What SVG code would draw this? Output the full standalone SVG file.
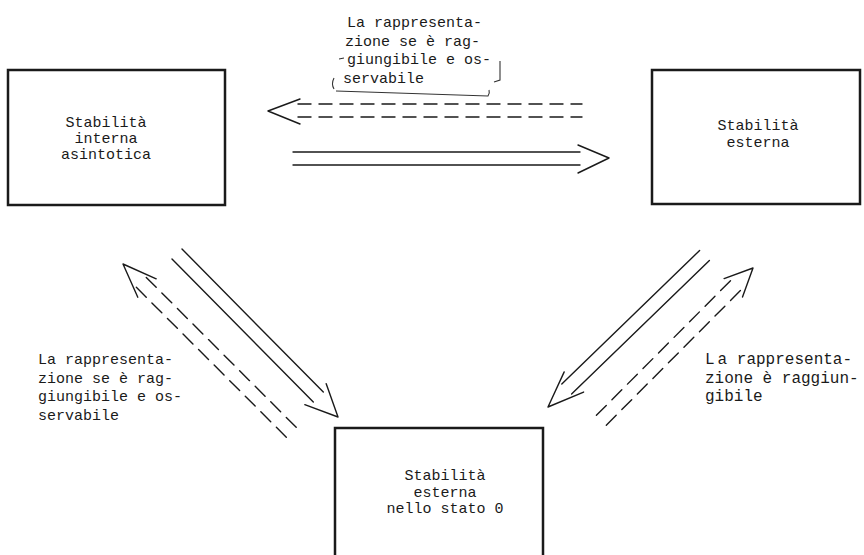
<svg xmlns="http://www.w3.org/2000/svg" width="864" height="555" viewBox="0 0 864 555">
<style>
.box{fill:none;stroke:#1a1a1a;stroke-width:2.5}
.t{font-family:"Liberation Mono","DejaVu Sans Mono",monospace;font-size:15px;fill:#1a1a1a}
.big{font-size:16px}
.c{text-anchor:middle}
.ln{fill:none;stroke:#1a1a1a;stroke-width:1.4;stroke-linecap:round;stroke-linejoin:round}
.dh{stroke-dasharray:13 8}
.dd{stroke-dasharray:14 8}
.hand{fill:none;stroke:#333;stroke-width:1.1}
</style>
<rect width="864" height="555" fill="#fff"/>
<g id="node-internal">
<rect class="box" x="8" y="70" width="217" height="135"/>
<text class="t c" x="106" y="127">Stabilità</text>
<text class="t c" x="106" y="143">interna</text>
<text class="t c" x="106" y="159">asintotica</text>
</g>
<g id="node-external">
<rect class="box" x="652" y="70" width="208" height="134"/>
<text class="t c" x="758" y="130">Stabilità</text>
<text class="t c" x="758" y="146.5">esterna</text>
</g>
<g id="node-zero">
<rect class="box" x="335" y="428" width="208" height="140"/>
<text class="t c" x="445" y="480">Stabilità</text>
<text class="t c" x="445" y="496.5">esterna</text>
<text class="t c" x="445" y="513">nello stato 0</text>
</g>
<g id="connectors">
<line class="ln dh" x1="298" y1="104" x2="582" y2="104"/>
<line class="ln dh" x1="298" y1="117" x2="582" y2="117"/>
<polyline class="ln" points="300,99 268,111 300,124"/>
<line class="ln" x1="293" y1="152" x2="580" y2="152"/>
<line class="ln" x1="293" y1="165" x2="580" y2="165"/>
<polyline class="ln" points="578,145 609,158 578,173"/>
<line class="ln" x1="182" y1="249" x2="323.3" y2="392.1"/>
<line class="ln" x1="172" y1="259" x2="313.3" y2="401.9"/>
<polyline class="ln" points="326.2,383.7 338,417 304.8,404.7"/>
<line class="ln dd" x1="296.2" y1="427.3" x2="144.9" y2="276"/>
<line class="ln dd" x1="286.3" y1="437.2" x2="135" y2="286"/>
<polyline class="ln" points="156.2,278.8 123,264 137.8,297.2"/>
<line class="ln" x1="699.6" y1="250.5" x2="561.8" y2="383.9"/>
<line class="ln" x1="709.4" y1="260.5" x2="571.6" y2="393.9"/>
<polyline class="ln" points="564.2,371.9 548,407 583.6,392.1"/>
<line class="ln dd" x1="596.4" y1="415.3" x2="731.1" y2="280.1"/>
<line class="ln dd" x1="606.3" y1="425.2" x2="741" y2="290"/>
<polyline class="ln" points="724.1,278.6 753,268 742.5,297"/>
</g>
<g id="label-top">
<text class="t" x="347" y="27">La rappresenta-</text>
<text class="t" x="345" y="45.5">zione se è rag-</text>
<text class="t" x="347" y="64">giungibile e os-</text>
<text class="t" x="343" y="82.5">servabile</text>
<path class="hand" d="M334,78 Q331,84 334,89 M336,91 Q400,93 488,96 Q490,93 489,90 M500,61 L500,80 L494,82 M339,59 L344,58"/>
</g>
<g id="label-left">
<text class="t" x="38" y="364">La rappresenta-</text>
<text class="t" x="38" y="382.5">zione se è rag-</text>
<text class="t" x="38" y="401">giungibile e os-</text>
<text class="t" x="38" y="419.5">servabile</text>
</g>
<g id="label-right">
<text class="t big" x="705" y="364">L<tspan dx="3">a rappresenta-</tspan></text>
<text class="t big" x="705" y="382.5">zione è raggiun-</text>
<text class="t big" x="705" y="401">gibile</text>
</g>
</svg>
